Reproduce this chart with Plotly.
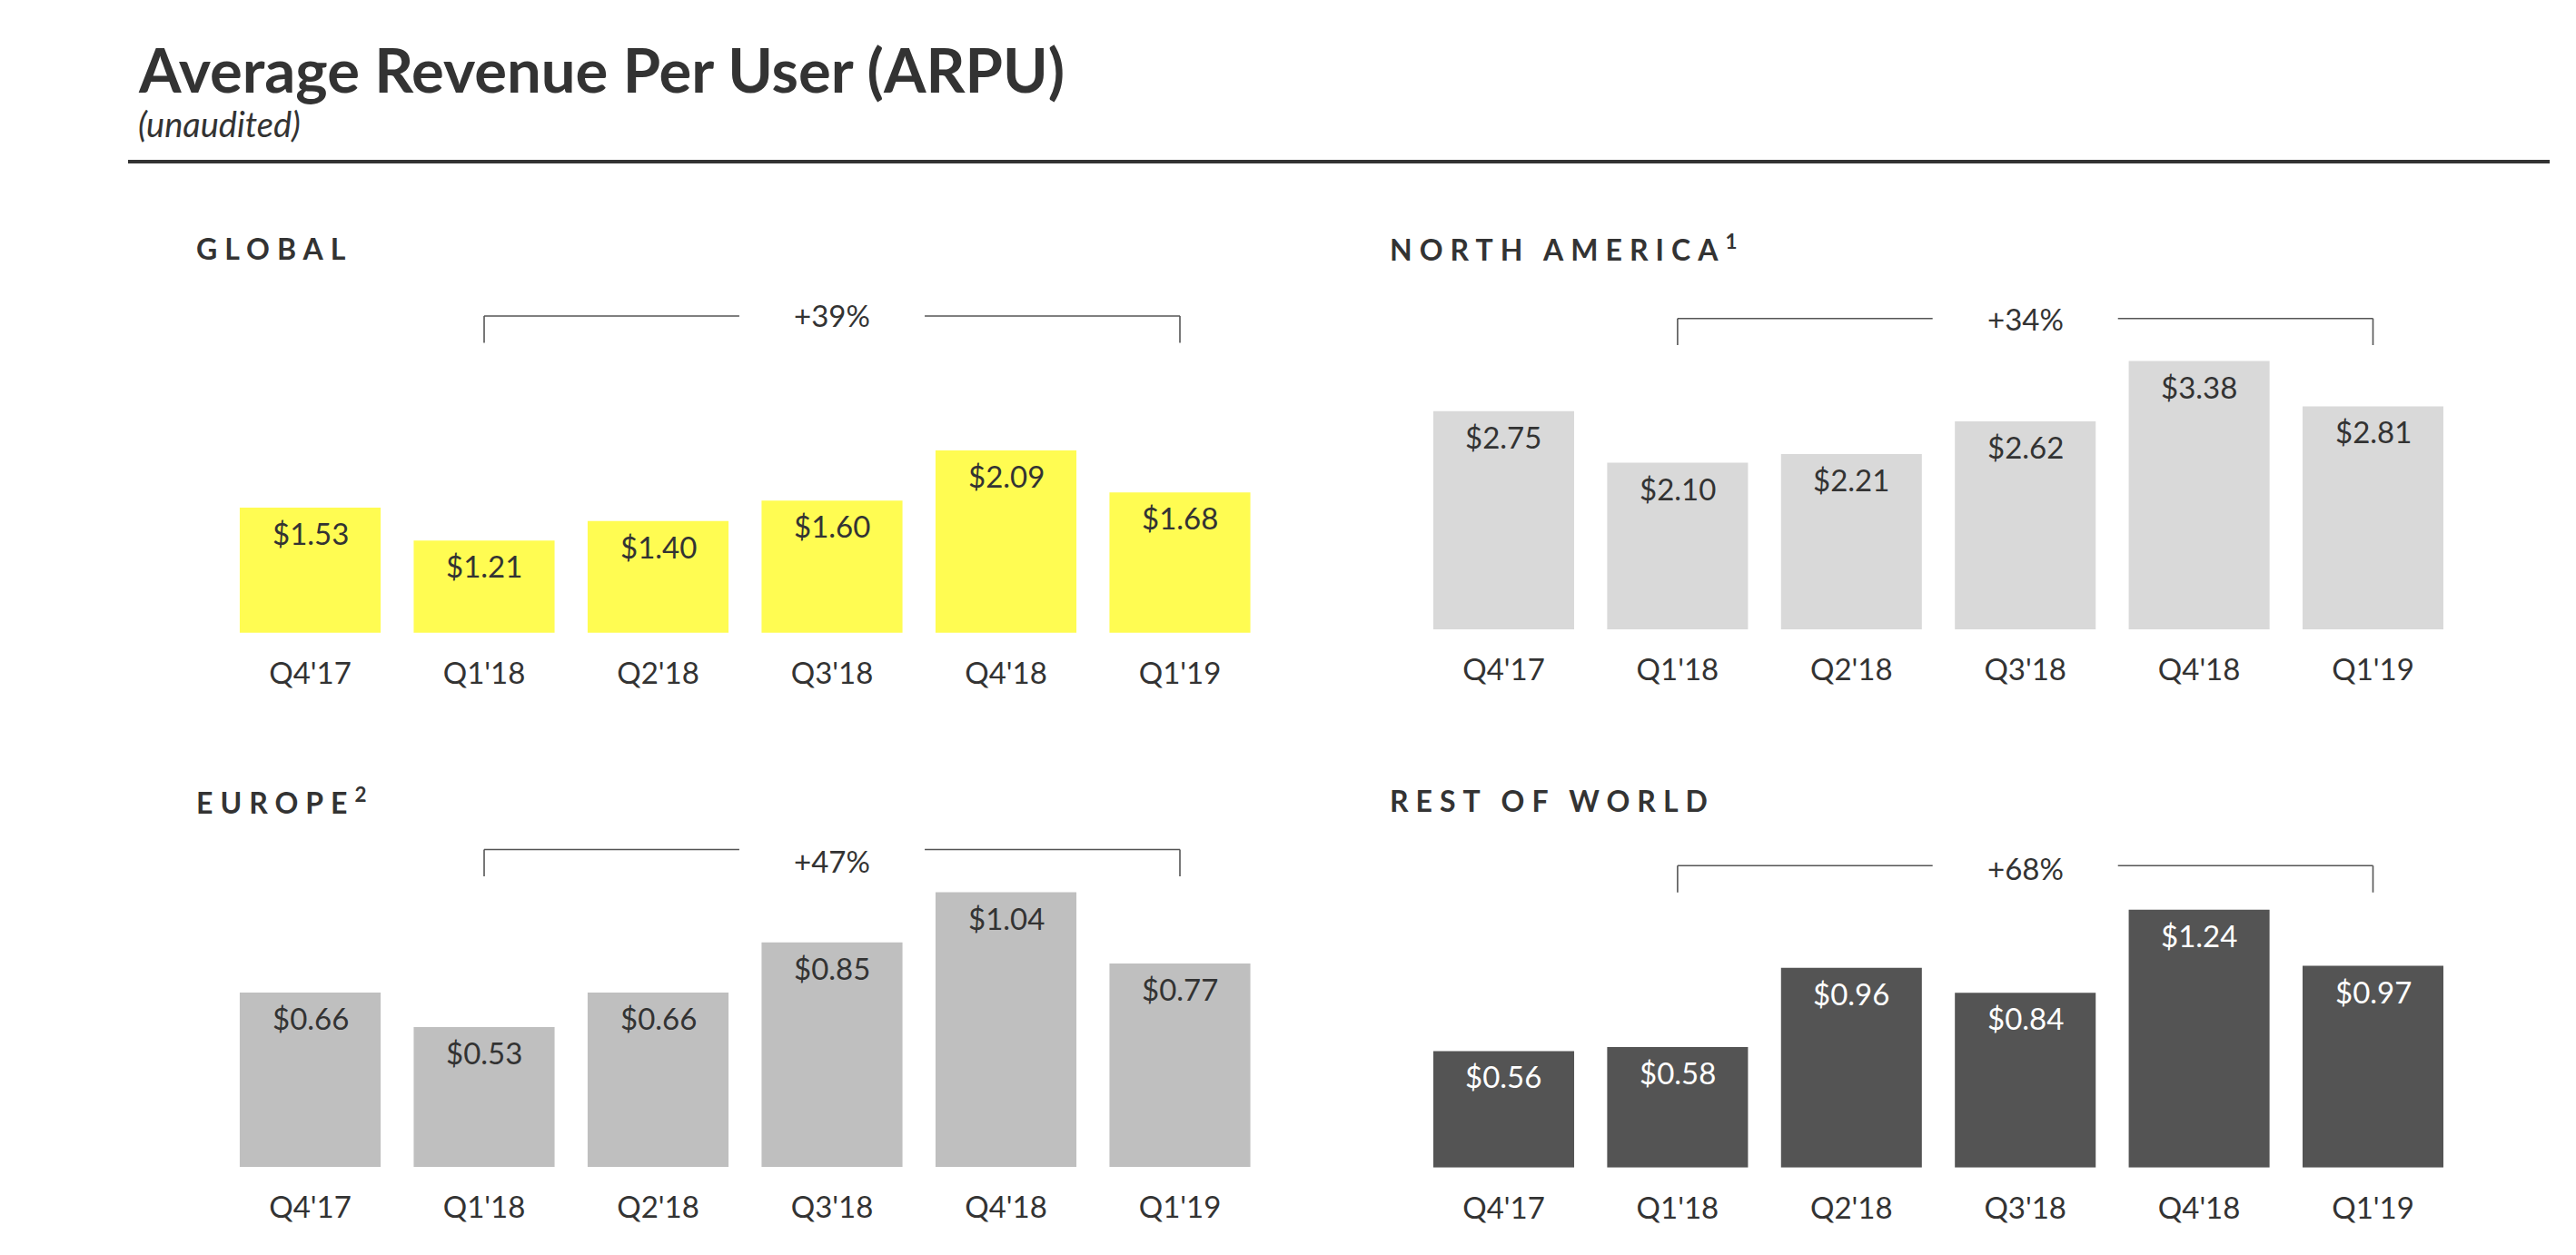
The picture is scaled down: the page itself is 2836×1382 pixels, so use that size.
import plotly.graph_objects as go

# ---------------- data ----------------
quarters = ["Q4'17", "Q1'18", "Q2'18", "Q3'18", "Q4'18", "Q1'19"]
global_arpu = [1.53, 1.21, 1.40, 1.60, 2.09, 1.68]
north_america_arpu = [2.75, 2.10, 2.21, 2.62, 3.38, 2.81]
europe_arpu = [0.66, 0.53, 0.66, 0.85, 1.04, 0.77]
rest_of_world_arpu = [0.56, 0.58, 0.96, 0.84, 1.24, 0.97]
panel_titles = ["GLOBAL", "NORTH AMERICA<sup>1</sup>", "EUROPE<sup>2</sup>", "REST OF WORLD"]
growth_labels = ["+39%", "+34%", "+47%", "+68%"]
growth_from, growth_to = "Q1'18", "Q1'19"
title_text = "Average Revenue Per User (ARPU)"
subtitle_text = "(unaudited)"

series = [global_arpu, north_america_arpu, europe_arpu, rest_of_world_arpu]

# ---------------- layout (pixel geometry) ----------------
W, H = 2836, 1382
FONT = "Lato"
DARK = "#333333"


def fx(px):
    return px / W


def fy(py):
    return 1 - py / H


panels = [
    dict(ax="", color="#FFFC52", txt=DARK, x0=245.75, x1=1394.75, bottom=696.7, ppu=112.8, base=0.31,
         top=420, title=(213.6, 273.3), br=(348.0, 377.5, 347.0)),
    dict(ax="2", color="#D9D9D9", txt=DARK, x0=1559.8, x1=2708.2, bottom=693.3, ppu=87.5, base=0.0,
         top=380, title=(1528.0, 273.3), br=(350.7, 380.0, 350.8)),
    dict(ax="3", color="#BFBFBF", txt=DARK, x0=245.75, x1=1394.75, bottom=1285.0, ppu=290.8, base=0.0,
         top=960, title=(213.6, 882.0), br=(935.5, 965.0, 948.0)),
    dict(ax="4", color="#545454", txt="#FFFFFF", x0=1559.8, x1=2708.2, bottom=1285.7, ppu=229.0, base=0.0,
         top=975, title=(1528.0, 881.7), br=(953.3, 982.7, 955.5)),
]

fig = go.Figure()
annotations = []
shapes = []
layout_axes = {}

i_from = quarters.index(growth_from)
i_to = quarters.index(growth_to)
i_mid = (i_from + i_to) / 2
gap_half = 0.533  # half-width of the gap around the growth label, in category units

for p, vals, ttl, growth in zip(panels, series, panel_titles, growth_labels):
    ax = p["ax"]
    xname = "x" + ax
    yname = "y" + ax
    fig.add_trace(go.Bar(
        x=quarters, y=vals, xaxis=xname, yaxis=yname,
        marker=dict(color=p["color"], line=dict(width=0)),
        hoverinfo="x+y", showlegend=False,
    ))
    ymax = p["base"] + (p["bottom"] - p["top"]) / p["ppu"]
    layout_axes["xaxis" + ax] = dict(
        domain=[fx(p["x0"]), fx(p["x1"])], anchor=yname, type="category",
        range=[-0.5, len(quarters) - 0.5], showgrid=False, zeroline=False, showline=False,
        ticks="", tickfont=dict(family=FONT, size=33, color=DARK), ticklabelstandoff=22,
        fixedrange=True,
    )
    layout_axes["yaxis" + ax] = dict(
        domain=[fy(p["bottom"]), fy(p["top"])], anchor=xname,
        range=[p["base"], ymax], visible=False, fixedrange=True,
    )
    # value labels
    for q, v in zip(quarters, vals):
        annotations.append(dict(
            x=q, y=v, xref=xname, yref=yname, text=f"${v:.2f}", showarrow=False,
            yanchor="middle", xanchor="center", yshift=-28,
            font=dict(family=FONT, size=33, color=p["txt"]),
        ))
    # panel title
    tx, ty = p["title"]
    annotations.append(dict(
        x=fx(tx), y=fy(ty), xref="paper", yref="paper", xanchor="left", yanchor="middle",
        text=f'<span style="letter-spacing:8px">{ttl}</span>', showarrow=False,
        font=dict(family=FONT, size=32, color=DARK, weight=700),
    ))
    # growth bracket
    yl, yt, ytxt = p["br"]
    lc = dict(color="#555555", width=1.6)
    for (xa, xb, ya, yb) in [
        (i_from, i_from, yl, yt),
        (i_from, i_mid - gap_half, yl, yl),
        (i_mid + gap_half, i_to, yl, yl),
        (i_to, i_to, yl, yt),
    ]:
        shapes.append(dict(type="line", xref=xname, yref="paper",
                           x0=xa, x1=xb, y0=fy(ya), y1=fy(yb), line=lc))
    annotations.append(dict(
        x=i_mid, y=fy(ytxt), xref=xname, yref="paper", text=growth, showarrow=False,
        xanchor="center", yanchor="middle", font=dict(family=FONT, size=33, color=DARK),
    ))

# title, subtitle, rule
annotations.append(dict(
    x=fx(150), y=fy(76), xref="paper", yref="paper", xanchor="left", yanchor="middle",
    text=title_text, showarrow=False, font=dict(family=FONT, size=67, color=DARK, weight=700),
))
annotations.append(dict(
    x=fx(150), y=fy(136), xref="paper", yref="paper", xanchor="left", yanchor="middle",
    text=f"<i>{subtitle_text}</i>", showarrow=False, font=dict(family=FONT, size=38, color=DARK, weight=400),
))
shapes.append(dict(type="line", xref="paper", yref="paper", x0=fx(141), x1=fx(2807),
                   y0=fy(178), y1=fy(178), line=dict(color=DARK, width=4)))

fig.update_layout(
    width=W, height=H, margin=dict(l=0, r=0, t=0, b=0),
    paper_bgcolor="white", plot_bgcolor="white",
    bargap=0.19, annotations=annotations, shapes=shapes, showlegend=False,
    **layout_axes,
)

fig.write_html("out.html", config=dict(displayModeBar=False),
               post_script="document.body.style.margin='0px';document.body.style.overflow='hidden';")
